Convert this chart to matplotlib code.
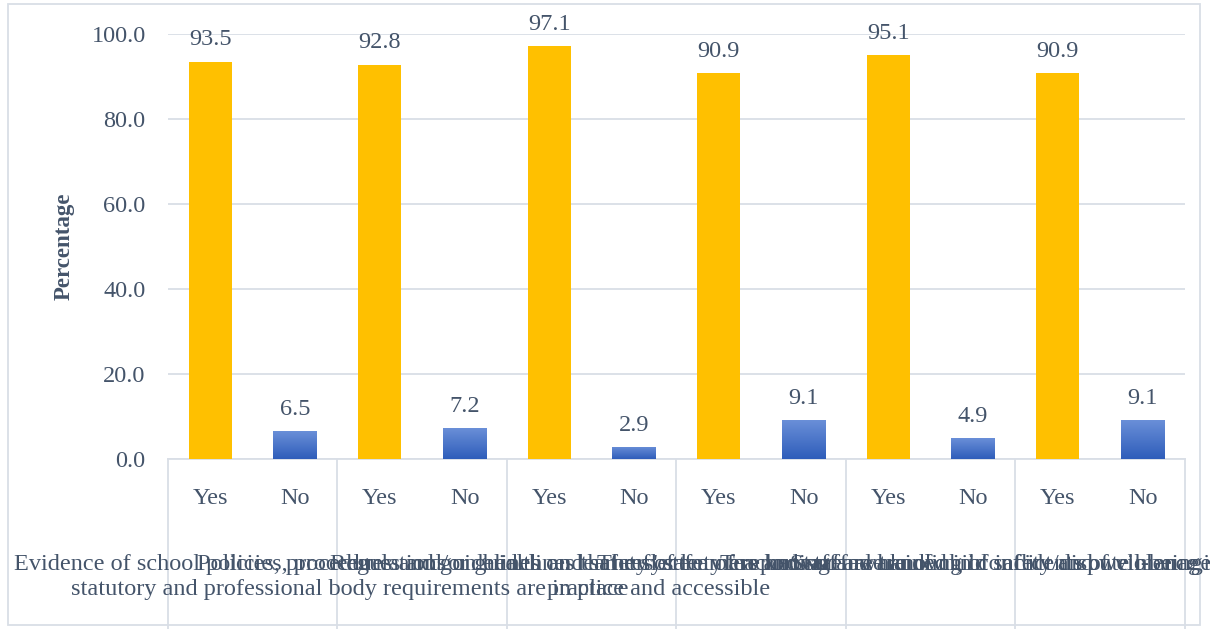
import matplotlib.pyplot as plt
import numpy as np
from matplotlib.patches import Rectangle
from matplotlib.colors import LinearSegmentedColormap

plt.rcParams["font.family"] = ["Liberation Serif", "DejaVu Serif"]

# Survey items: share of respondents answering Yes / No (%)
items = [
    "Evidence of school policies, procedures and/or guidelines that reflect\n"
    "statutory and professional body requirements are in place",
    "Policies, procedures and guidelines on learners' safety are known",
    "Regulations on health and safety of learners and staff are known, in\n"
    "practice and accessible",
    "The system of reporting and handling of incidents of violence is effective",
    "Teachers are aware of child safety and well-being during school activities",
    "Staff are trained in conflict/dispute management (e.g. first aid capacity/child protection)",
]
responses = ["Yes", "No"]
yes_pct = [93.5, 92.8, 97.1, 90.9, 95.1, 90.9]
no_pct = [6.5, 7.2, 2.9, 9.1, 4.9, 9.1]

text_color = "#44546A"
grid_color = "#D9DEE6"
yellow = "#FFC000"
blue_map = LinearSegmentedColormap.from_list("blue_grad", ["#2E5DBA", "#6A8FD8"])
fs = 17.5
W, H = 1210, 629

fig = plt.figure(figsize=(W / 100, H / 100), dpi=100)
ax = fig.add_axes([0.1388, 0.2703, 0.8405, 0.6757])

n = len(items)
values = []
for y, nv in zip(yes_pct, no_pct):
    values += [y, nv]
x = np.arange(len(values))
colors = [yellow if i % 2 == 0 else "#4472C4" for i in range(len(values))]
bars = ax.bar(x, values, width=0.51, color=colors, zorder=3)

# gradient fill for the "No" bars
grad = np.linspace(0, 1, 256).reshape(-1, 1)
for i, b in enumerate(bars):
    if i % 2 == 1:
        x0, w, h = b.get_x(), b.get_width(), b.get_height()
        im = ax.imshow(grad, cmap=blue_map, origin="lower", aspect="auto",
                       extent=[x0, x0 + w, 0, h], zorder=4)
        im.set_clip_path(b)
ax.set_xlim(-0.5, len(values) - 0.5)
ax.set_ylim(0, 100)

# value labels
for b, v in zip(bars, values):
    ax.annotate(f"{v:.1f}", (b.get_x() + b.get_width() / 2, v),
                xytext=(0, 8), textcoords="offset points", ha="center", va="bottom",
                fontsize=fs, color=text_color)

ticks = np.arange(0, 101, 20)
ax.set_yticks(ticks)
ax.set_yticklabels([f"{t:.1f}" for t in ticks], fontsize=fs, color=text_color)
ax.yaxis.grid(True, color=grid_color, linewidth=1.3, zorder=0)
ax.tick_params(axis="y", length=0, pad=16)
ax.tick_params(axis="x", length=0, pad=21)
ax.set_xticks(x)
ax.set_xticklabels(responses * n, fontsize=fs, color=text_color)

for s in ["left", "right", "top"]:
    ax.spines[s].set_visible(False)
ax.spines["bottom"].set_color(grid_color)
ax.spines["bottom"].set_linewidth(1.3)

ax.set_ylabel("Percentage", fontsize=16.5, fontweight="bold", color=text_color, labelpad=12)

# group separators below the axis
trans = ax.get_xaxis_transform()
for g in range(n + 1):
    ax.plot([2 * g - 0.5, 2 * g - 0.5], [0, -0.47], transform=trans,
            color=grid_color, linewidth=1.3, clip_on=False)

# item labels: long text runs past its own group, as laid out by the source sheet
label_left = [14, 197, 330, 597, 720, 790]
for left, label in zip(label_left, items):
    fig.text(left / W, 1 - 554 / H, label, ha="left", va="top", multialignment="center",
             fontsize=fs, color=text_color, linespacing=1.22)

fig.patches.append(Rectangle((8 / W, 4 / H), 1192 / W, 621 / H,
                             transform=fig.transFigure, fill=False,
                             edgecolor=grid_color, linewidth=1.3))

fig.savefig("out.png", dpi=100)
